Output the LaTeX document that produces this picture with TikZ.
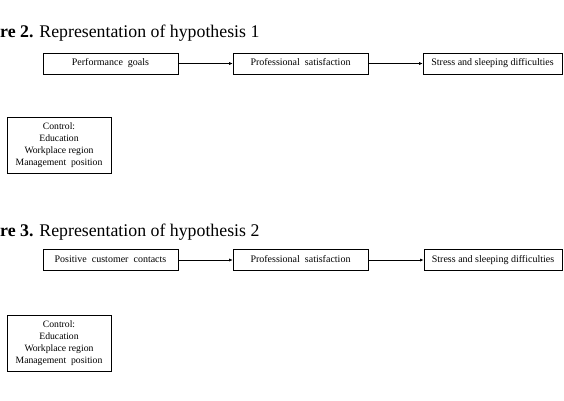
\documentclass[tikz,border=0pt]{standalone}
\usepackage{fontspec}
\setmainfont{Liberation Serif}
\usetikzlibrary{arrows.meta}
\begin{document}
\begin{tikzpicture}[x=1pt,y=-1pt,
  stepbox/.style={draw,line width=0.6pt,minimum width=135pt,minimum height=21pt,inner sep=0pt,text height=7pt,text depth=2.2pt,font=\fontsize{10}{12}\selectfont},
  ctrlbox/.style={draw,line width=0.6pt,minimum width=104pt,minimum height=56pt,inner sep=0pt,align=center,font=\fontsize{9.7}{12}\selectfont},
  arr/.style={-{Latex[length=3.5pt,width=3pt]},line width=0.6pt},
  title/.style={anchor=base west,inner sep=0pt,font=\fontsize{17.8}{20}\selectfont}]
\useasboundingbox (0,0) rectangle (564,400);
% Figure 2
\node[title] (t1) at (0,37) {\textbf{re 2.} Representation of hypothesis 1};
\node[stepbox] (a1) at (110.5,63.5) {Performance\ \ goals};
\node[stepbox] (b1) at (300.5,63.5) {Professional\ \ satisfaction};
\node[stepbox,minimum width=139pt] (c1) at (492.5,63.5) {Stress and sleeping difficulties};
\draw[arr] (a1) -- (b1);
\draw[arr] (b1) -- (c1);
\node[ctrlbox] (k1) at (59,145) {Control:\\Education\\Workplace region\\Management\ \ position};
% Figure 3
\node[title] (t2) at (0,236) {\textbf{re 3.} Representation of hypothesis 2};
\node[stepbox] (a2) at (110.5,260) {Positive\ \ customer\ \ contacts};
\node[stepbox] (b2) at (300.5,260) {Professional\ \ satisfaction};
\node[stepbox,minimum width=138pt] (c2) at (493,260) {Stress and sleeping difficulties};
\draw[arr] (a2) -- (b2);
\draw[arr,line width=1pt] (b2) -- (c2);
\node[ctrlbox] (k2) at (59,343.5) {Control:\\Education\\Workplace region\\Management\ \ position};
\end{tikzpicture}
\end{document}
